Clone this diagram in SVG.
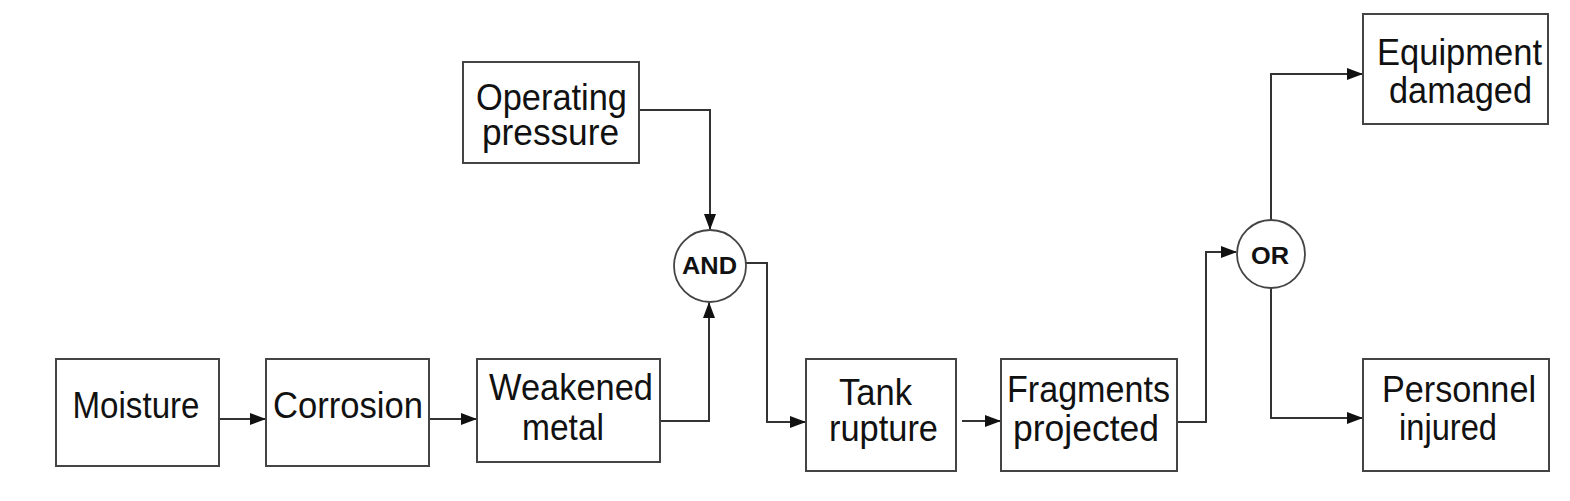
<svg xmlns="http://www.w3.org/2000/svg" width="1570" height="501" viewBox="0 0 1570 501">
<style>
.box{fill:#fff;stroke:#444;stroke-width:2}
.gate{fill:#fff;stroke:#444;stroke-width:1.8}
.t{font-family:"Liberation Sans",Arial,sans-serif;font-size:36px;fill:#111;text-anchor:middle}
.g{font-family:"Liberation Sans",Arial,sans-serif;font-size:23px;font-weight:bold;fill:#111;text-anchor:middle}
.c{fill:none;stroke:#333;stroke-width:2;marker-end:url(#ah)}
</style>
<defs>
<marker id="ah" markerUnits="userSpaceOnUse" markerWidth="16" markerHeight="12" refX="15" refY="6" orient="auto">
<path d="M0,0 L16,6 L0,12 z" fill="#111"/>
</marker>
</defs>
<rect width="1570" height="501" fill="#fff"/>
<g id="connectors">
<path class="c" d="M219,419 H265"/>
<path class="c" d="M429,419 H476"/>
<path class="c" d="M660,421 H709 V303"/>
<path class="c" d="M639,110 H710 V229"/>
<path class="c" d="M746,263 H767 V422 H805"/>
<path class="c" d="M962,421 H1000"/>
<path class="c" d="M1177,422 H1206 V252 H1236"/>
<path class="c" d="M1271,220 V74 H1362"/>
<path class="c" d="M1271,288 V418 H1362"/>
</g>
<g id="moisture">
<rect class="box" x="56" y="359" width="163" height="107"/>
<text class="t" x="136" y="418" textLength="127" lengthAdjust="spacingAndGlyphs">Moisture</text>
</g>
<g id="corrosion">
<rect class="box" x="266" y="359" width="163" height="107"/>
<text class="t" x="348" y="418" textLength="150" lengthAdjust="spacingAndGlyphs">Corrosion</text>
</g>
<g id="weakened">
<rect class="box" x="477" y="359" width="183" height="103"/>
<text class="t" x="571" y="400" textLength="164" lengthAdjust="spacingAndGlyphs">Weakened</text>
<text class="t" x="563" y="440" textLength="82" lengthAdjust="spacingAndGlyphs">metal</text>
</g>
<g id="operating">
<rect class="box" x="463" y="62" width="176" height="101"/>
<text class="t" x="551.5" y="110" textLength="151" lengthAdjust="spacingAndGlyphs">Operating</text>
<text class="t" x="550.5" y="145" textLength="137" lengthAdjust="spacingAndGlyphs">pressure</text>
</g>
<g id="and">
<circle class="gate" cx="710" cy="266" r="36"/>
<text class="g" x="709.5" y="274" textLength="55" lengthAdjust="spacingAndGlyphs">AND</text>
</g>
<g id="tank">
<rect class="box" x="806" y="359" width="150" height="112"/>
<text class="t" x="875.5" y="405" textLength="73" lengthAdjust="spacingAndGlyphs">Tank</text>
<text class="t" x="883.5" y="441" textLength="109" lengthAdjust="spacingAndGlyphs">rupture</text>
</g>
<g id="fragments">
<rect class="box" x="1001" y="359" width="176" height="112"/>
<text class="t" x="1088.5" y="402" textLength="163" lengthAdjust="spacingAndGlyphs">Fragments</text>
<text class="t" x="1086" y="441" textLength="146" lengthAdjust="spacingAndGlyphs">projected</text>
</g>
<g id="or">
<circle class="gate" cx="1271" cy="254" r="34"/>
<text class="g" x="1270" y="264" textLength="38" lengthAdjust="spacingAndGlyphs">OR</text>
</g>
<g id="equipment">
<rect class="box" x="1363" y="14" width="185" height="110"/>
<text class="t" x="1459.5" y="65" textLength="165" lengthAdjust="spacingAndGlyphs">Equipment</text>
<text class="t" x="1460.5" y="103" textLength="143" lengthAdjust="spacingAndGlyphs">damaged</text>
</g>
<g id="personnel">
<rect class="box" x="1363" y="359" width="186" height="112"/>
<text class="t" x="1459" y="402" textLength="154" lengthAdjust="spacingAndGlyphs">Personnel</text>
<text class="t" x="1448" y="440" textLength="98" lengthAdjust="spacingAndGlyphs">injured</text>
</g>
</svg>
